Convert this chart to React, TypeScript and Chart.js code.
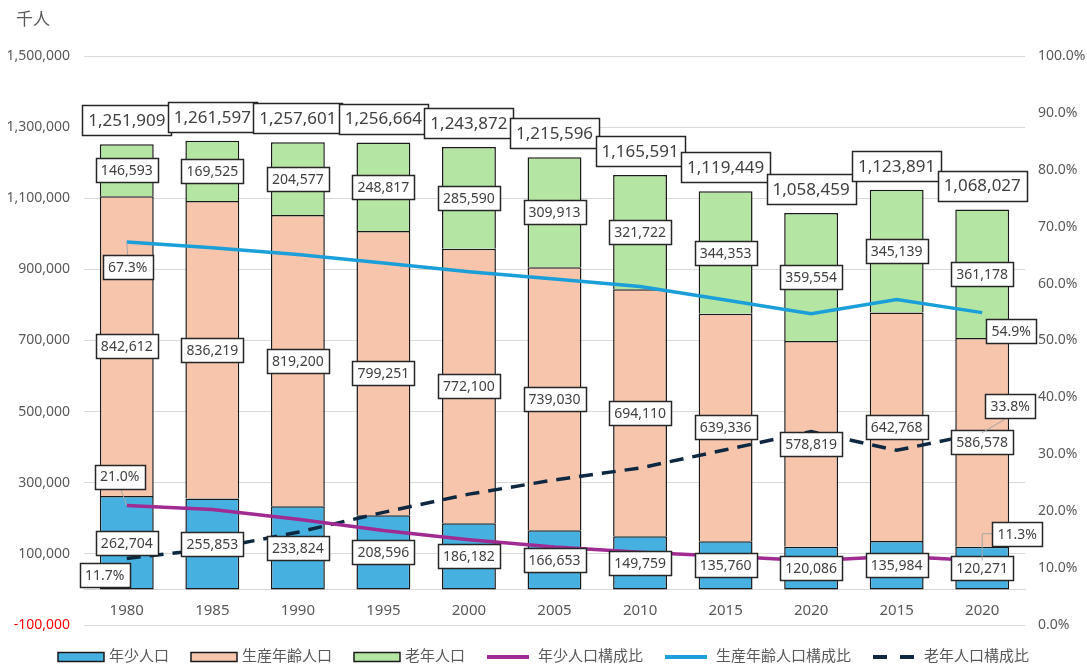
import React, { useEffect, useRef } from 'react';
import { Chart, registerables } from 'chart.js';

Chart.register(...registerables);

// ---------- data ----------
const years = ['1980', '1985', '1990', '1995', '2000', '2005', '2010', '2015', '2020', '2015', '2020'];
const youngPop = [262704, 255853, 233824, 208596, 186182, 166653, 149759, 135760, 120086, 135984, 120271];
const workingPop = [842612, 836219, 819200, 799251, 772100, 739030, 694110, 639336, 578819, 642768, 586578];
const elderlyPop = [146593, 169525, 204577, 248817, 285590, 309913, 321722, 344353, 359554, 345139, 361178];
const totalPop = [1251909, 1261597, 1257601, 1256664, 1243872, 1215596, 1165591, 1119449, 1058459, 1123891, 1068027];
const youngRatio = [21.0, 20.3, 18.6, 16.6, 15.0, 13.7, 12.8, 12.1, 11.3, 12.1, 11.3];
const workingRatio = [67.3, 66.3, 65.1, 63.6, 62.1, 60.8, 59.5, 57.1, 54.7, 57.2, 54.9];
const elderlyRatio = [11.7, 13.4, 16.3, 19.8, 23.0, 25.5, 27.6, 30.8, 34.0, 30.7, 33.8];
const leftTicks = [-100000, 100000, 300000, 500000, 700000, 900000, 1100000, 1300000, 1500000];
const rightTicks = [0, 10, 20, 30, 40, 50, 60, 70, 80, 90, 100];
const unitLabel = '千人';

// ---------- style ----------
const FONT = '"Noto Sans", "Noto Sans CJK JP", sans-serif';
const GREY = '#595959';
const GRID = '#D9D9D9';
const C_YOUNG = '#46B1E1';
const C_WORK = '#F6C5AC';
const C_OLD = '#B4E5A2';
const L_YOUNG = '#A02B93';
const L_WORK = '#1A9FD9';
const L_OLD = '#0E2841';

const fmt = (v: number) => v.toLocaleString('en-US');

// label placements for ratio lines (offsets of the box centre from the point)
const pctLabels = [
  { ds: 3, i: 0, dx: -7, dy: -29, leader: 'line' },
  { ds: 3, i: 10, dx: 35, dy: -27, leader: 'elbow' },
  { ds: 4, i: 0, dx: 1, dy: 25, leader: 'line' },
  { ds: 4, i: 10, dx: 29, dy: 18, leader: 'none' },
  { ds: 5, i: 0, dx: -22, dy: 17, leader: 'none' },
  { ds: 5, i: 10, dx: 28, dy: -27, leader: 'line' },
];

function drawBox(ctx: CanvasRenderingContext2D, text: string, cx: number, cy: number, size: number, padX: number, h: number) {
  ctx.save();
  ctx.font = `${size}px ${FONT}`;
  const w = Math.round(ctx.measureText(text).width + padX * 2);
  const x = Math.round(cx - w / 2) + 0.5;
  const y = Math.round(cy - h / 2) + 0.5;
  ctx.fillStyle = '#ffffff';
  ctx.fillRect(x, y, w, h);
  ctx.strokeStyle = '#262626';
  ctx.lineWidth = 1.5;
  ctx.strokeRect(x, y, w, h);
  ctx.fillStyle = '#404040';
  ctx.textAlign = 'center';
  ctx.textBaseline = 'middle';
  ctx.fillText(text, cx, cy + 1);
  ctx.restore();
  return { x, y, w, h };
}

const labelPlugin = {
  id: 'boxLabels',
  afterDatasetsDraw(chart: any) {
    const ctx: CanvasRenderingContext2D = chart.ctx;
    const series = [youngPop, workingPop, elderlyPop];
    for (let d = 0; d < 3; d++) {
      const meta = chart.getDatasetMeta(d);
      meta.data.forEach((bar: any, i: number) => {
        drawBox(ctx, fmt(series[d][i]), bar.x, (bar.y + bar.base) / 2, 14, 5, 24);
      });
    }
    const topMeta = chart.getDatasetMeta(2);
    topMeta.data.forEach((bar: any, i: number) => {
      drawBox(ctx, fmt(totalPop[i]), bar.x, bar.y - 24, 17, 6, 30);
    });
    const ratios = [youngRatio, workingRatio, elderlyRatio];
    pctLabels.forEach((p) => {
      const pt = chart.getDatasetMeta(p.ds).data[p.i];
      const cx = pt.x + p.dx;
      const cy = pt.y + p.dy;
      const text = ratios[p.ds - 3][p.i].toFixed(1) + '%';
      ctx.save();
      ctx.font = `14px ${FONT}`;
      const w = ctx.measureText(text).width + 11;
      const h = 24;
      ctx.strokeStyle = '#A6A6A6';
      ctx.lineWidth = 1;
      if (p.leader === 'line') {
        const ty = pt.y > cy ? cy + h / 2 : cy - h / 2;
        ctx.beginPath();
        ctx.moveTo(pt.x, pt.y);
        ctx.lineTo(cx + (pt.x - cx) * 0.1, ty);
        ctx.stroke();
      } else if (p.leader === 'elbow') {
        ctx.beginPath();
        ctx.moveTo(pt.x, pt.y);
        ctx.lineTo(pt.x, cy);
        ctx.lineTo(cx - w / 2, cy);
        ctx.stroke();
      }
      ctx.restore();
      drawBox(ctx, text, cx, cy, 14, 5.5, h);
    });
  },
};

const legendItems = [
  { text: '年少人口', kind: 'box', color: C_YOUNG },
  { text: '生産年齢人口', kind: 'box', color: C_WORK },
  { text: '老年人口', kind: 'box', color: C_OLD },
  { text: '年少人口構成比', kind: 'line', color: L_YOUNG },
  { text: '生産年齢人口構成比', kind: 'line', color: L_WORK },
  { text: '老年人口構成比', kind: 'dash', color: L_OLD },
];

const extrasPlugin = {
  id: 'extras',
  afterDraw(chart: any) {
    const ctx: CanvasRenderingContext2D = chart.ctx;
    ctx.save();
    // unit label
    ctx.font = `17px ${FONT}`;
    ctx.fillStyle = GREY;
    ctx.textAlign = 'left';
    ctx.textBaseline = 'middle';
    ctx.fillText(unitLabel, 16, 20);
    // legend
    ctx.font = `15px ${FONT}`;
    const markW = 46, gap = 5, spacing = 22;
    const widths = legendItems.map((it) => markW + gap + ctx.measureText(it.text).width);
    const total = widths.reduce((a, b) => a + b, 0) + spacing * (legendItems.length - 1);
    let x = chart.width / 2 - total / 2;
    const y = 657;
    legendItems.forEach((it, k) => {
      if (it.kind === 'box') {
        ctx.fillStyle = it.color;
        ctx.fillRect(x, y - 4.5, markW, 9);
        ctx.strokeStyle = '#1a1a1a';
        ctx.lineWidth = 1.5;
        ctx.strokeRect(x, y - 4.5, markW, 9);
      } else {
        ctx.strokeStyle = it.color;
        ctx.lineWidth = 4;
        ctx.setLineDash(it.kind === 'dash' ? [14, 13] : []);
        ctx.beginPath();
        ctx.moveTo(x, y);
        ctx.lineTo(x + markW - 4, y);
        ctx.stroke();
        ctx.setLineDash([]);
      }
      ctx.fillStyle = GREY;
      ctx.fillText(it.text, x + markW + gap, y);
      x += widths[k] + spacing;
    });
    ctx.restore();
  },
};

export default function App() {
  const ref = useRef<HTMLCanvasElement>(null);
  useEffect(() => {
    document.body.style.margin = '0';
    const canvas = ref.current;
    if (!canvas) return;
    const chart = new Chart(canvas, {
      data: {
        labels: years,
        datasets: [
          { type: 'bar', label: '年少人口', data: youngPop, backgroundColor: C_YOUNG, borderColor: '#1a1a1a', borderWidth: 1.5, borderSkipped: false, yAxisID: 'y', order: 2 },
          { type: 'bar', label: '生産年齢人口', data: workingPop, backgroundColor: C_WORK, borderColor: '#1a1a1a', borderWidth: 1.5, borderSkipped: 'start', yAxisID: 'y', order: 2 },
          { type: 'bar', label: '老年人口', data: elderlyPop, backgroundColor: C_OLD, borderColor: '#1a1a1a', borderWidth: 1.5, borderSkipped: 'start', yAxisID: 'y', order: 2 },
          { type: 'line', label: '年少人口構成比', data: youngRatio, yAxisID: 'y1', borderColor: L_YOUNG, borderWidth: 3.5, pointRadius: 0, tension: 0, order: 1 },
          { type: 'line', label: '生産年齢人口構成比', data: workingRatio, yAxisID: 'y1', borderColor: L_WORK, borderWidth: 3.5, pointRadius: 0, tension: 0, order: 1 },
          { type: 'line', label: '老年人口構成比', data: elderlyRatio, yAxisID: 'y1', borderColor: L_OLD, borderWidth: 3.5, borderDash: [14, 9], pointRadius: 0, tension: 0, order: 1 },
        ] as any,
      },
      options: {
        responsive: false,
        devicePixelRatio: 1,
        animation: false,
        events: [],
        layout: { padding: { top: 56, bottom: 41, left: 0, right: 0 } },
        datasets: { bar: { barPercentage: 0.9, categoryPercentage: 0.7 } },
        plugins: { legend: { display: false }, tooltip: { enabled: false }, title: { display: false } },
        scales: {
          x: {
            stacked: true,
            position: { y: 0 } as any,
            grid: { display: false, drawTicks: false },
            border: { display: true, color: GRID, width: 1 },
            ticks: { color: GREY, font: { size: 15, family: FONT }, padding: 12, maxRotation: 0, autoSkip: false },
          },
          y: {
            stacked: true,
            position: 'left',
            min: -100000,
            max: 1500000,
            afterBuildTicks: (axis: any) => { axis.ticks = leftTicks.map((value) => ({ value })); },
            afterFit: (s: any) => { s.width = 84; },
            grid: { color: GRID, lineWidth: 1, drawTicks: false },
            border: { display: false },
            ticks: {
              padding: 14,
              font: { size: 14, family: FONT },
              color: (c: any) => (c.tick && c.tick.value < 0 ? '#FF0000' : GREY),
              callback: (v: any) => fmt(Number(v)),
            },
          },
          y1: {
            position: 'right',
            min: 0,
            max: 100,
            afterBuildTicks: (axis: any) => { axis.ticks = rightTicks.map((value) => ({ value })); },
            afterFit: (s: any) => { s.width = 62; },
            grid: { display: false, drawTicks: false },
            border: { display: false },
            ticks: {
              padding: 13,
              font: { size: 14, family: FONT },
              color: GREY,
              callback: (v: any) => Number(v).toFixed(1) + '%',
            },
          },
        },
      } as any,
      plugins: [labelPlugin, extrasPlugin],
    });
    return () => chart.destroy();
  }, []);
  return <canvas ref={ref} width={1087} height={666} style={{ display: 'block' }} />;
}
